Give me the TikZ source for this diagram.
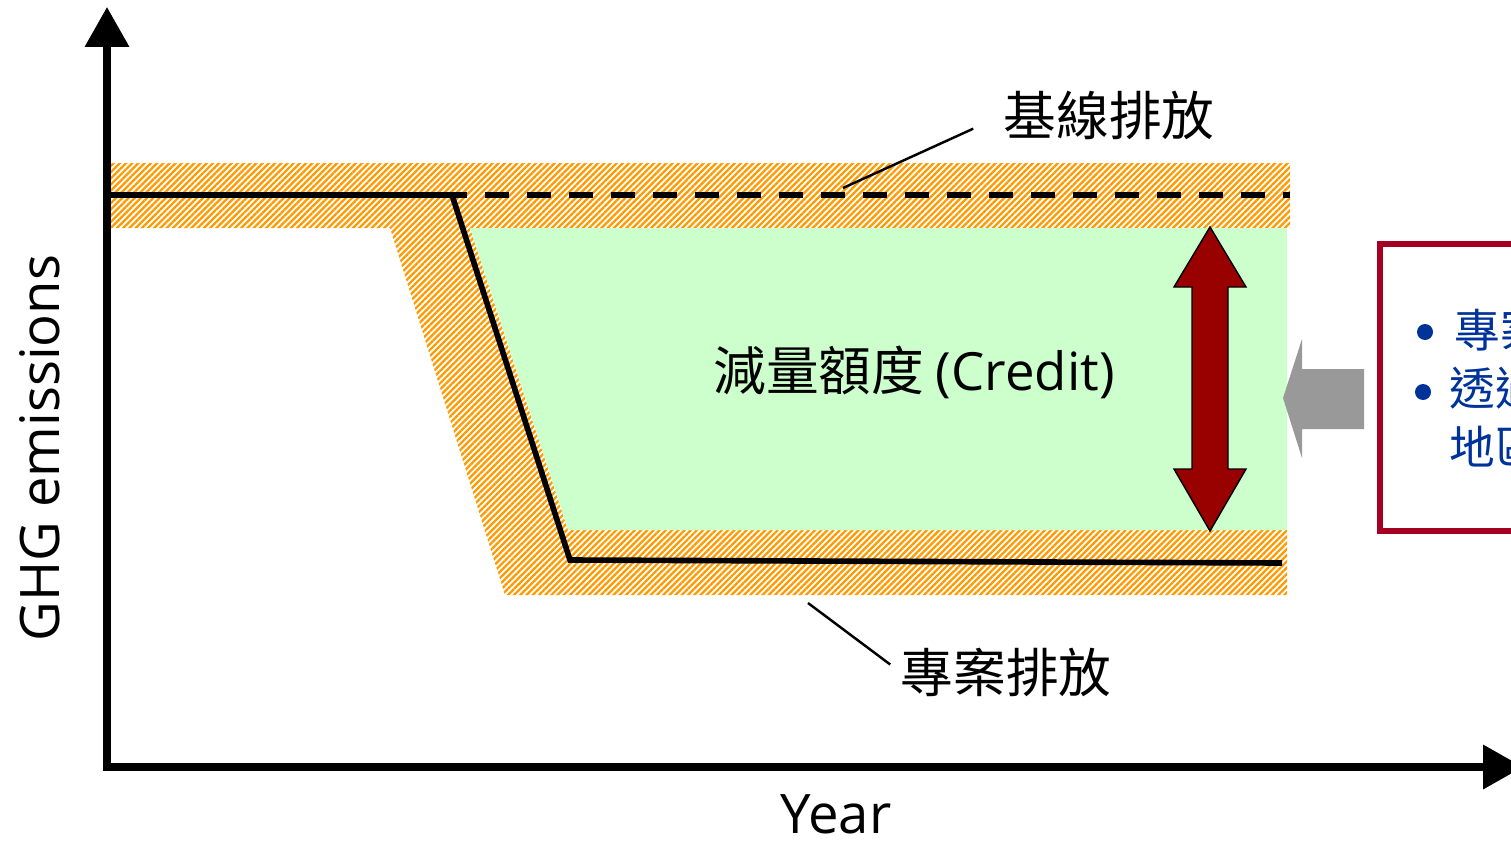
\documentclass[tikz,border=0pt]{standalone}
\usepackage{fontspec}
\setmainfont{Open Sans}
\newfontfamily\cjk{Noto Sans CJK TC}
\usepackage{xcolor}
\usetikzlibrary{arrows.meta,patterns.meta}
\definecolor{hatchorange}{HTML}{FF9900}
\definecolor{creditgreen}{HTML}{CCFFCC}
\definecolor{arrowred}{HTML}{990000}
\definecolor{boxred}{HTML}{A50021}
\definecolor{bulletblue}{HTML}{003399}
\definecolor{pointergray}{HTML}{999999}

\begin{document}
\begin{tikzpicture}[x=0.02cm,y=-0.02cm,
hatch/.style={pattern={Lines[angle=45,distance=2.5pt,line width=1.3pt]}, pattern color=hatchorange},
emission/.style={line width=3.2pt, line join=miter},
leader/.style={line width=1.4pt},
axis/.style={line width=4pt, line join=miter, {Triangle[length=0.8cm,width=0.86cm]}-{Triangle[length=0.8cm,width=0.86cm]}},
cjklabel/.style={font=\cjk\fontsize{30}{34}\selectfont, inner sep=0pt},
axislabel/.style={font=\fontsize{31}{36}\selectfont, inner sep=0pt},
boxtext/.style={font=\cjk\fontsize{26}{30}\selectfont, text=bulletblue, inner sep=0pt, anchor=west},
bulletdot/.style={circle, fill=bulletblue, inner sep=0pt, minimum size=0.32cm},
]
\useasboundingbox (0,0) rectangle (1511,842);

% uncertainty band and credit area
\fill[hatch] (110,163) -- (1290,163) -- (1290,228) -- (470,228) -- (568,530) -- (1287,530)
  -- (1287,595) -- (505,595) -- (390,228) -- (110,228) -- cycle;
\fill[creditgreen] (470,228) -- (1287,228) -- (1287,530) -- (568,530) -- cycle;

% emission lines
\coordinate (start) at (110,195);
\coordinate (turn) at (452,195);
\coordinate (baseEnd) at (1290,195);
\coordinate (drop) at (570,560);
\coordinate (projEnd) at (1282,563);
\draw[emission] (start) -- (turn);
\draw[emission, dash pattern=on 0.48cm off 0.36cm, dash phase=0.18cm] (turn) -- (baseEnd);
\draw[emission] (turn) -- (drop) -- (projEnd);

% axes
\coordinate (O) at (107,767);
\coordinate (yTop) at (107,7);
\coordinate (xEnd) at (1523,767);
\draw[axis] (yTop) -- (O) -- (xEnd);
\node[axislabel] (year) at (836,814){Year};
\node[axislabel, rotate=90] (ghg) at (40,448){GHG emissions};

% labels
\node[cjklabel] (baseLabel) at (1109,115){基線排放};
\node[cjklabel] (projLabel) at (1006,672){專案排放};
\node[cjklabel] (credit) at (914,372){減量額度 {\fontspec{Open Sans}(Credit)}};
\coordinate (baseTip) at (843,188);
\coordinate (projTip) at (808,603);
\draw[leader, shorten >=0.66cm] (baseTip) -- (baseLabel.west);
\draw[leader, shorten >=0.25cm] (projTip) -- (projLabel.west);

% credit arrow
\draw[fill=arrowred, line width=0.8pt] (1210,227) -- (1246,287) -- (1228,287) -- (1228,469) -- (1246,469)
  -- (1210,531) -- (1174,469) -- (1192,469) -- (1192,287) -- (1174,287) -- cycle;

% pointer and box
\fill[pointergray] (1283,398) -- (1302,339) -- (1302,369) -- (1364,369) -- (1364,429) -- (1302,429)
  -- (1302,458) -- cycle;
\draw[boxred, line width=3.4pt] (1380,244) rectangle (1560,531);
\node[bulletdot] (bulletA) at (1425,332){};
\node[boxtext] (pointA) at (1454,330){專案};
\node[bulletdot] (bulletB) at (1423,392){};
\node[boxtext] (pointB) at (1449,388){透過};
\node[boxtext] (pointC) at (1449,447){地區};

\end{tikzpicture}
\end{document}
